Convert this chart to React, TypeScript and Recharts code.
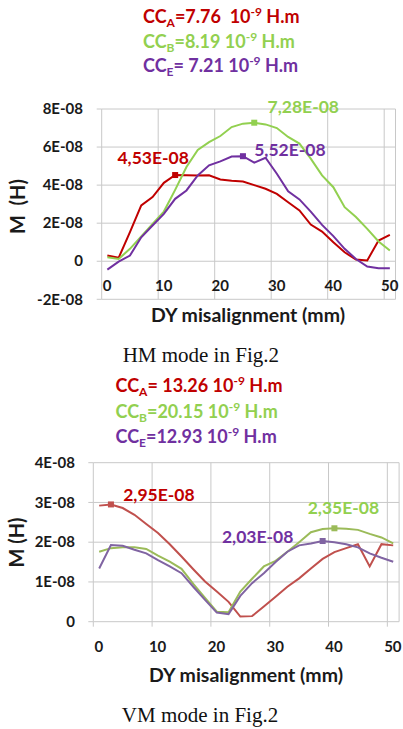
import { CartesianGrid, Line, LineChart, XAxis, YAxis } from "recharts"

// DY misalignment (mm), shared by both modes
const dyMm = [1, 3, 5, 7, 9, 11, 13, 15, 17, 19, 21, 23, 25, 27, 29, 31, 33, 35, 37, 39, 41, 43, 45, 47, 49, 51]

// HM mode, M in units of 1E-08 H
const hmCoilA = [0.3, 0.18, 1.53, 2.93, 3.37, 4.12, 4.53, 4.52, 4.51, 4.52, 4.3, 4.23, 4.19, 4.0, 3.81, 3.54, 3.1, 2.67, 1.93, 1.56, 1.0, 0.47, 0.09, 0.04, 1.09, 1.39]
const hmCoilB = [0.21, 0.12, 0.65, 1.3, 1.96, 2.61, 3.75, 4.95, 5.85, 6.26, 6.58, 7.05, 7.23, 7.28, 7.19, 7.0, 6.53, 6.18, 5.39, 4.51, 3.89, 2.84, 2.32, 1.7, 1.04, 0.56]
const hmCoilE = [-0.44, -0.02, 0.3, 1.26, 1.88, 2.49, 3.28, 3.72, 4.51, 5.04, 5.25, 5.5, 5.52, 5.18, 5.44, 4.6, 3.67, 3.25, 2.61, 1.91, 1.32, 0.65, 0.12, -0.28, -0.37, -0.37]

// VM mode, M in units of 1E-08 H
const vmCoilA = [2.92, 2.95, 2.86, 2.69, 2.46, 2.23, 1.95, 1.64, 1.32, 1.01, 0.76, 0.5, 0.13, 0.14, 0.38, 0.63, 0.88, 1.09, 1.34, 1.58, 1.75, 1.85, 1.95, 1.39, 1.95, 1.92]
const vmCoilB = [1.76, 1.85, 1.87, 1.87, 1.83, 1.66, 1.51, 1.33, 0.95, 0.6, 0.25, 0.24, 0.76, 1.08, 1.39, 1.53, 1.76, 2.0, 2.25, 2.33, 2.35, 2.34, 2.31, 2.21, 2.12, 1.97]
const vmCoilE = [1.34, 1.93, 1.91, 1.81, 1.72, 1.55, 1.39, 1.22, 0.88, 0.55, 0.23, 0.19, 0.65, 0.97, 1.22, 1.5, 1.76, 1.92, 1.97, 2.03, 2.0, 1.95, 1.87, 1.72, 1.61, 1.51]

const xTicks = [0, 10, 20, 30, 40, 50]
const hmYTicks = [-2, 0, 2, 4, 6, 8]
const hmYTickLabels = ["-2E-08", "0", "2E-08", "4E-08", "6E-08", "8E-08"]
const vmYTicks = [0, 1, 2, 3, 4]
const vmYTickLabels = ["0", "1E-08", "2E-08", "3E-08", "4E-08"]

const hmPeakLabels = ["4,53E-08", "7,28E-08", "5,52E-08"]
const vmPeakLabels = ["2,95E-08", "2,35E-08", "2,03E-08"]

const coilNames = ["A", "B", "E"]
const hmCoupling = ["=7.76  10", "=8.19 10", "= 7.21 10"]
const vmCoupling = ["= 13.26 10", "=20.15 10", "=12.93 10"]

const FONT = "Lato, 'Open Sans', sans-serif"
const GRID = "#c8c8c8"
const TEXT_COLORS = ["#C00000", "#92D050", "#7030A0"]

const hmRows = dyMm.map((x, i) => ({ x, a: hmCoilA[i], b: hmCoilB[i], e: hmCoilE[i] }))
const vmRows = dyMm.map((x, i) => ({ x, a: vmCoilA[i], b: vmCoilB[i], e: vmCoilE[i] }))

const argMax = (arr: number[]) => arr.indexOf(Math.max(...arr))

type SeriesCfg = {
  key: string
  values: number[]
  stroke: string
  labelColor: string
  label: string
  dx: number
  dy: number
}

const hmSeries: SeriesCfg[] = [
  { key: "a", values: hmCoilA, stroke: "#C00000", labelColor: "#C00000", label: hmPeakLabels[0], dx: -22, dy: -17 },
  { key: "b", values: hmCoilB, stroke: "#92D050", labelColor: "#92D050", label: hmPeakLabels[1], dx: 49, dy: -16 },
  { key: "e", values: hmCoilE, stroke: "#7030A0", labelColor: "#7030A0", label: hmPeakLabels[2], dx: 47, dy: -6 },
]

const vmSeries: SeriesCfg[] = [
  { key: "a", values: vmCoilA, stroke: "#C0504D", labelColor: "#C00000", label: vmPeakLabels[0], dx: 48, dy: -10 },
  { key: "b", values: vmCoilB, stroke: "#9BBB59", labelColor: "#92D050", label: vmPeakLabels[1], dx: 9, dy: -20 },
  { key: "e", values: vmCoilE, stroke: "#8064A2", labelColor: "#7030A0", label: vmPeakLabels[2], dx: -65, dy: -4 },
]

function peakDot(s: SeriesCfg) {
  const peak = argMax(s.values)
  return (props: any) => {
    const { cx, cy, index } = props
    if (index !== peak) return <g key={`d-${s.key}-${index}`} />
    return (
      <g key={`d-${s.key}-${index}`}>
        <rect x={cx - 3} y={cy - 3} width={6} height={6} fill={s.stroke} />
        <text
          x={cx + s.dx}
          y={cy + s.dy}
          dy="0.35em"
          textAnchor="middle"
          fontFamily={FONT}
          fontWeight={700}
          fontSize={17.5}
          fill={s.labelColor}
        >
          {s.label}
        </text>
      </g>
    )
  }
}

function yTick(ticks: number[], labels: string[]) {
  return (props: any) => {
    const { x, y, payload } = props
    return (
      <text x={x} y={y} dy="0.35em" textAnchor="end" fontFamily={FONT} fontWeight={700} fontSize={15} fill="#1a1a1a">
        {labels[ticks.indexOf(payload.value)]}
      </text>
    )
  }
}

function xTick(shiftY: number) {
  return (props: any) => {
    const { x, y, payload } = props
    return (
      <text x={x + 5.5} y={y + shiftY} dy="0.35em" textAnchor="middle" fontFamily={FONT} fontWeight={700} fontSize={15} fill="#1a1a1a">
        {payload.value}
      </text>
    )
  }
}

function CouplingLine({ x, y, name, text, color }: { x: number; y: number; name: string; text: string; color: string }) {
  return (
    <text x={x} y={y} fontFamily={FONT} fontWeight={700} fontSize={18} fill={color} style={{ whiteSpace: "pre" }}>
      CC
      <tspan fontSize={12} dy={4}>{name}</tspan>
      <tspan dy={-4}>{text}</tspan>
      <tspan fontSize={12} dy={-7}>-9</tspan>
      <tspan dy={7}> H.m</tspan>
    </text>
  )
}

export default function App() {
  return (
    <div style={{ position: "absolute", left: 0, top: 0, width: 403, height: 729, background: "#fff", overflow: "hidden" }}>
      <div style={{ position: "absolute", left: 0, top: 0 }}>
        <LineChart width={403} height={330} data={hmRows} margin={{ top: 109, right: 7.5, bottom: 0.7, left: 0 }}>
          <CartesianGrid stroke={GRID} />
          <XAxis
            type="number"
            dataKey="x"
            domain={[0, 52]}
            ticks={xTicks}
            height={30}
            axisLine={false}
            tickLine={false}
            tickSize={0}
            tickMargin={0}
            tick={xTick(-14)}
          />
          <YAxis
            type="number"
            domain={[-2, 8]}
            ticks={hmYTicks}
            width={101.7}
            axisLine={false}
            tickLine={{ stroke: GRID }}
            tickSize={5}
            tickMargin={13.7}
            tick={yTick(hmYTicks, hmYTickLabels)}
          />
          {hmSeries.map((s) => (
            <Line
              key={s.key}
              type="linear"
              dataKey={s.key}
              stroke={s.stroke}
              strokeWidth={2}
              dot={peakDot(s)}
              activeDot={false}
              isAnimationActive={false}
            />
          ))}
        </LineChart>
      </div>

      <div style={{ position: "absolute", left: 0, top: 420 }}>
        <LineChart width={403} height={240} data={vmRows} margin={{ top: 42.7, right: 3.9, bottom: 8.3, left: 0 }}>
          <CartesianGrid stroke={GRID} />
          <XAxis
            type="number"
            dataKey="x"
            domain={[0, 52]}
            ticks={xTicks}
            height={30}
            axisLine={false}
            tickLine={{ stroke: GRID }}
            tickSize={5}
            tickMargin={0}
            tick={xTick(20)}
          />
          <YAxis
            type="number"
            domain={[0, 4]}
            ticks={vmYTicks}
            width={93.3}
            axisLine={false}
            tickLine={{ stroke: GRID }}
            tickSize={5}
            tickMargin={13.3}
            tick={yTick(vmYTicks, vmYTickLabels)}
          />
          {vmSeries.map((s) => (
            <Line
              key={s.key}
              type="linear"
              dataKey={s.key}
              stroke={s.stroke}
              strokeWidth={2}
              dot={peakDot(s)}
              activeDot={false}
              isAnimationActive={false}
            />
          ))}
        </LineChart>
      </div>

      {/* titles, coupling coefficients and captions */}
      <svg width={403} height={729} style={{ position: "absolute", left: 0, top: 0, pointerEvents: "none" }}>
        {coilNames.map((n, i) => (
          <CouplingLine key={`hm-${n}`} x={143} y={23.3 + i * 24.2} name={n} text={hmCoupling[i]} color={TEXT_COLORS[i]} />
        ))}
        {coilNames.map((n, i) => (
          <CouplingLine key={`vm-${n}`} x={115.5} y={391.7 + i * 25.8} name={n} text={vmCoupling[i]} color={TEXT_COLORS[i]} />
        ))}

        <text x={18} y={206.5} dy="0.35em" textAnchor="middle" transform="rotate(-90 18 206.5)" fontFamily={FONT} fontWeight={700} fontSize={20} fill="#1a1a1a" style={{ whiteSpace: "pre" }}>
          M  (H)
        </text>
        <text x={16.7} y={542.5} dy="0.35em" textAnchor="middle" transform="rotate(-90 16.7 542.5)" fontFamily={FONT} fontWeight={700} fontSize={20} fill="#1a1a1a">
          M (H)
        </text>

        <text x={248} y={322} textAnchor="middle" fontFamily={FONT} fontWeight={700} fontSize={19.5} fill="#1a1a1a">
          DY misalignment (mm)
        </text>
        <text x={246} y={682} textAnchor="middle" fontFamily={FONT} fontWeight={700} fontSize={19.5} fill="#1a1a1a">
          DY misalignment (mm)
        </text>

        <text x={200.8} y={361.7} textAnchor="middle" fontFamily="'Liberation Serif', 'Times New Roman', serif" fontSize={21} fill="#111">
          HM mode in Fig.2
        </text>
        <text x={200} y={721.7} textAnchor="middle" fontFamily="'Liberation Serif', 'Times New Roman', serif" fontSize={21} fill="#111">
          VM mode in Fig.2
        </text>
      </svg>
    </div>
  )
}
